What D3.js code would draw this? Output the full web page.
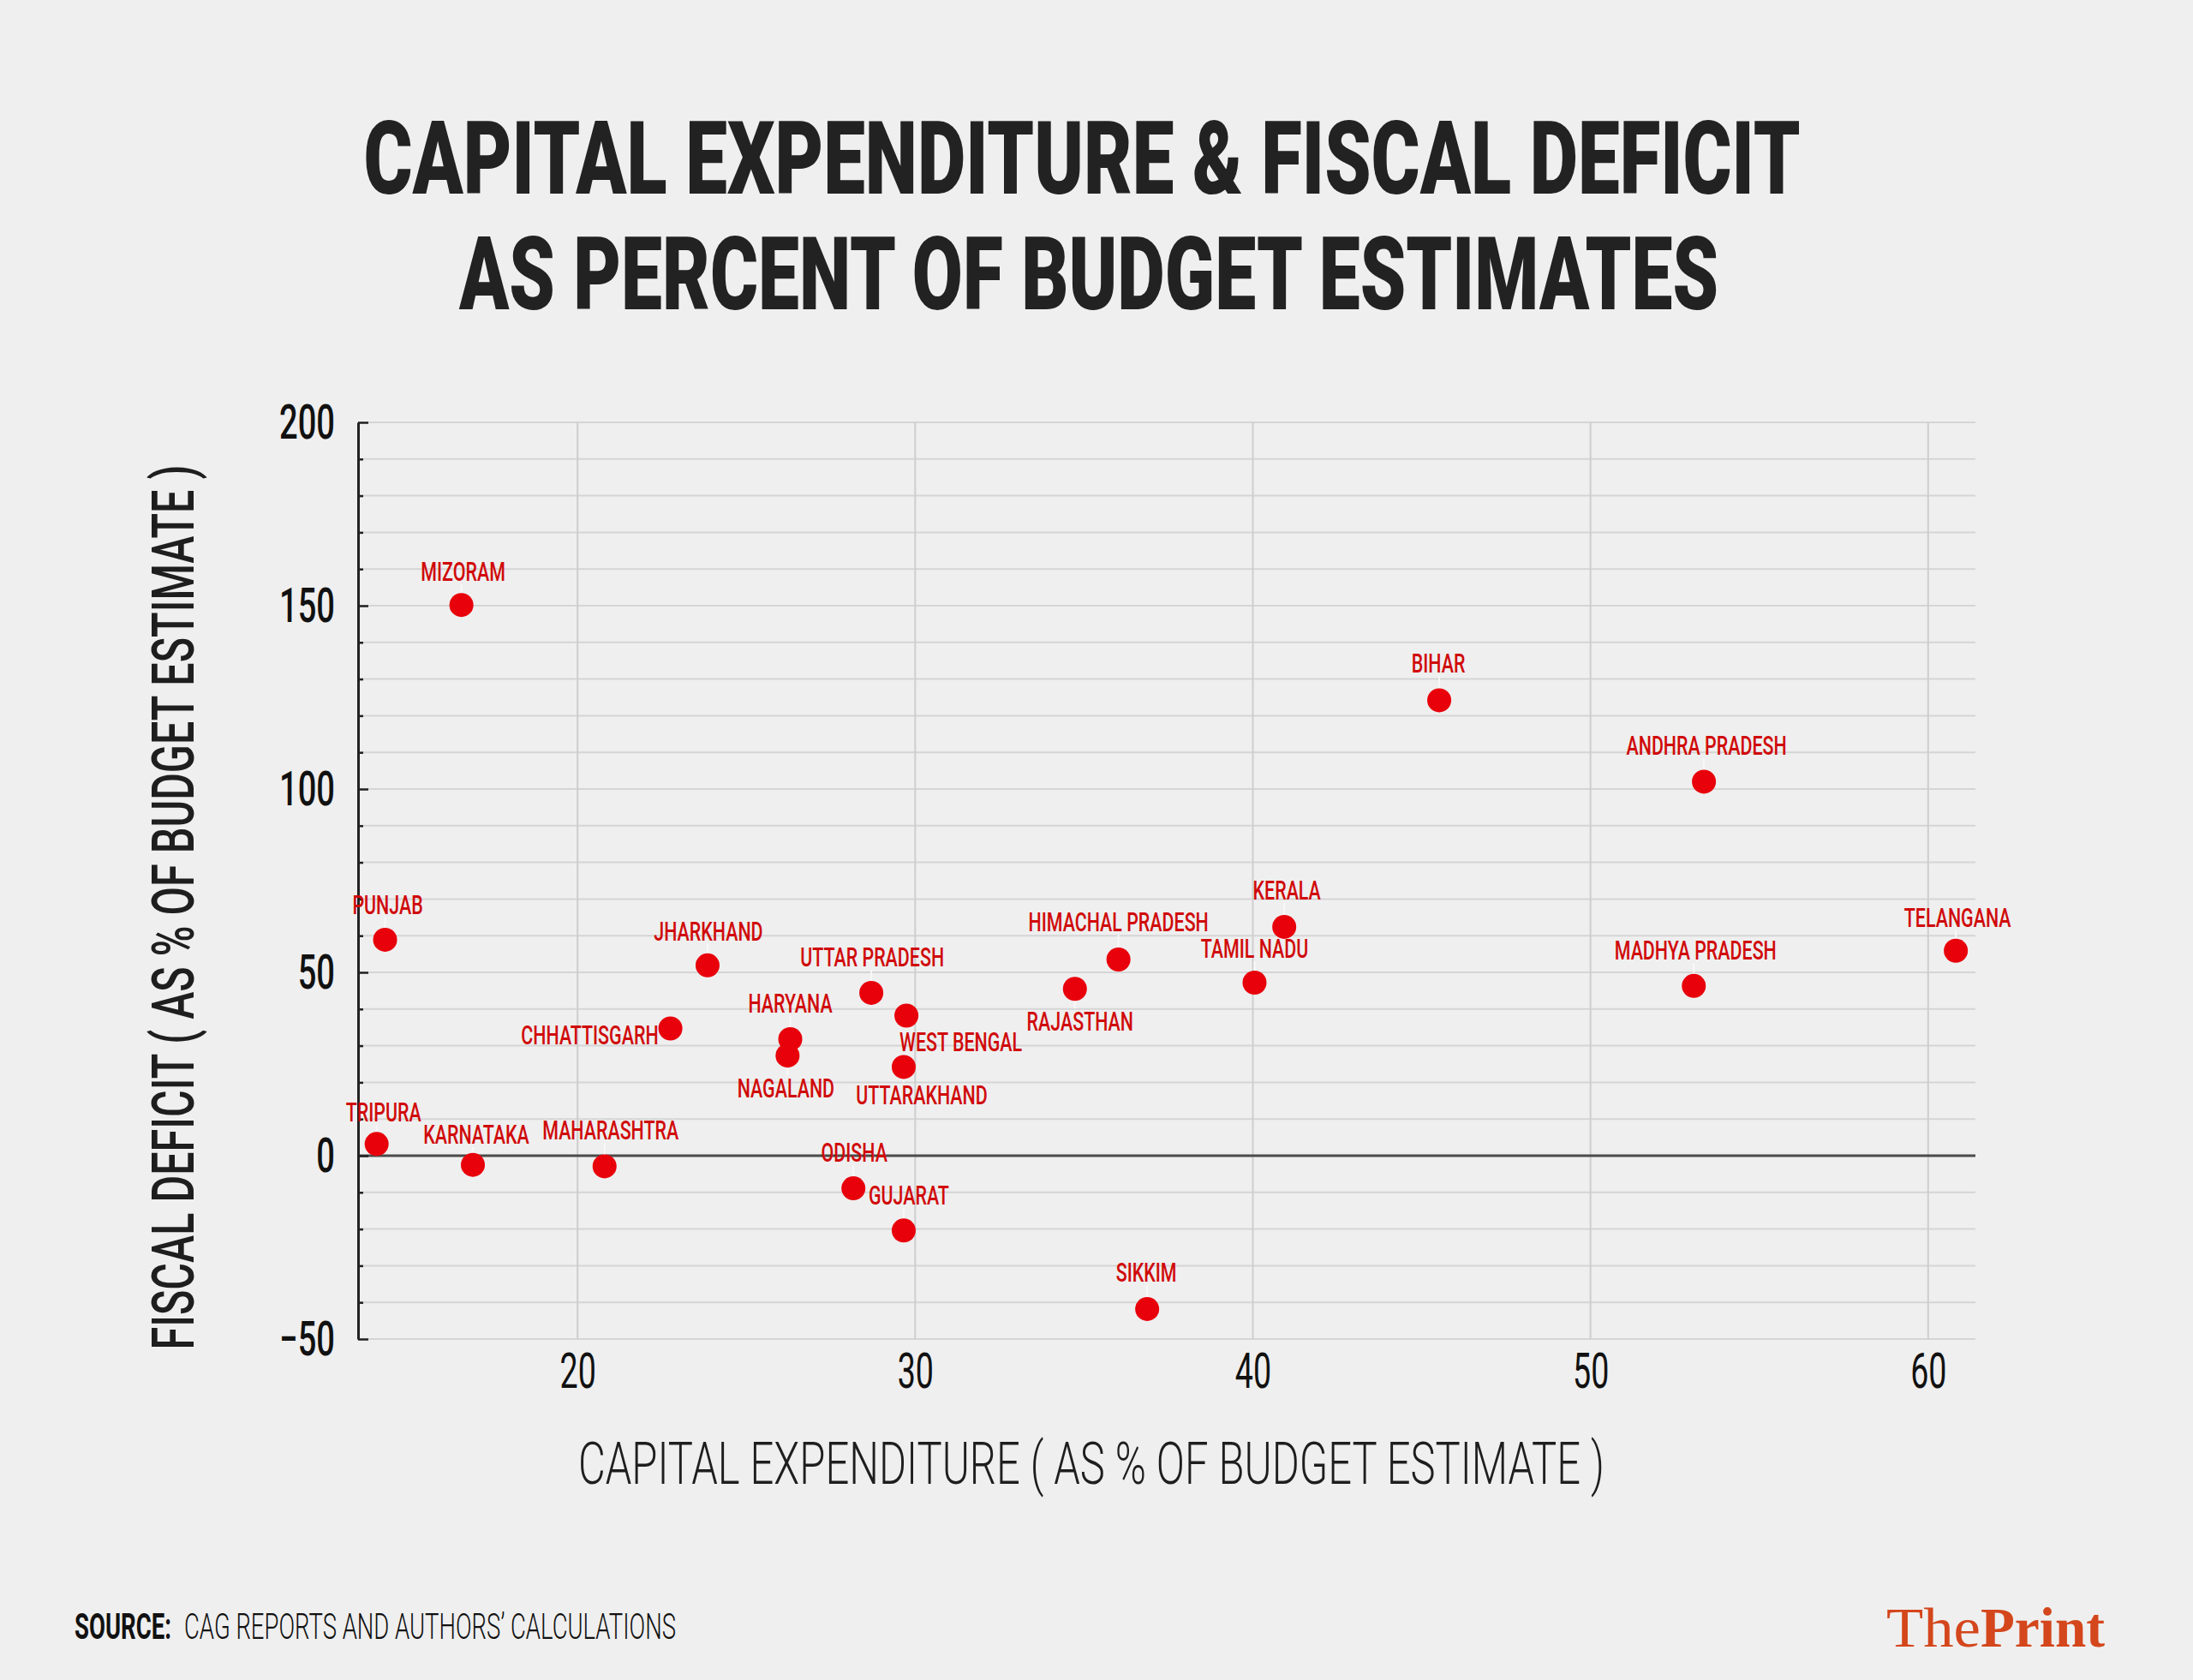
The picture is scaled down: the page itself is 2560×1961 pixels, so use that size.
<!DOCTYPE html>
<html>
<head>
<meta charset="utf-8">
<script src="https://cdn.jsdelivr.net/npm/d3@7"></script>
<style>
  html, body { margin: 0; padding: 0; background: #efefef; }
  svg { display: block; }
</style>
</head>
<body>
<svg id="chart" width="2560" height="1961"></svg>
<script>
// ---------------- DATA ----------------
const states = ["MIZORAM","PUNJAB","TRIPURA","KARNATAKA","MAHARASHTRA","CHHATTISGARH","JHARKHAND",
  "HARYANA","NAGALAND","UTTAR PRADESH","WEST BENGAL","UTTARAKHAND","ODISHA","GUJARAT",
  "RAJASTHAN","HIMACHAL PRADESH","KERALA","TAMIL NADU","SIKKIM","BIHAR","ANDHRA PRADESH",
  "MADHYA PRADESH","TELANGANA"];
const capitalExpenditure = [16.56,14.3,14.05,16.9,20.8,22.75,23.85,26.3,26.22,28.7,29.74,29.66,
  28.17,29.66,34.73,36.02,40.93,40.05,36.87,45.52,53.36,53.06,60.82];
const fiscalDeficit = [150.2,58.9,3.2,-2.5,-2.9,34.7,51.9,31.8,27.3,44.4,38.2,24.2,
  -8.9,-20.4,45.5,53.5,62.4,47.2,-41.8,124.2,102.0,46.3,55.9];
const yMajorTicks = [-50,0,50,100,150,200];
const xTicks = [20,30,40,50,60];

// ---------------- LAYOUT (label placement, px) ----------------
const labelPlace = {
  "MIZORAM":["middle",2,-28], "PUNJAB":["middle",3,-30], "TRIPURA":["middle",8,-26],
  "KARNATAKA":["middle",4,-25], "MAHARASHTRA":["middle",7,-31], "CHHATTISGARH":["end",-14,19],
  "JHARKHAND":["middle",1,-29], "HARYANA":["middle",0,-31], "NAGALAND":["middle",-2,49],
  "UTTAR PRADESH":["middle",1,-31], "WEST BENGAL":["start",-8,41], "UTTARAKHAND":["middle",21,44],
  "ODISHA":["middle",1,-31], "GUJARAT":["middle",6,-30], "RAJASTHAN":["middle",6,49],
  "HIMACHAL PRADESH":["middle",0,-33], "KERALA":["middle",3,-32], "TAMIL NADU":["middle",0,-29],
  "SIKKIM":["middle",-1,-32], "BIHAR":["middle",-1,-32], "ANDHRA PRADESH":["middle",3,-31],
  "MADHYA PRADESH":["middle",2,-31], "TELANGANA":["middle",2,-28]
};

const data = states.map((s,i)=>({name:s, x:capitalExpenditure[i], y:fiscalDeficit[i]}));

const svg = d3.select("#chart");
const FONT = "Roboto, 'Open Sans', 'DejaVu Sans', sans-serif";
svg.append("rect").attr("width",2560).attr("height",1961).attr("fill","#efefef");

const x = d3.scaleLinear().domain([13.5, 61.4]).range([418, 2306]);
const y = d3.scaleLinear().domain([-50, 200]).range([1563, 493]);

// ---------------- TITLE ----------------
svg.append("text").text("CAPITAL EXPENDITURE & FISCAL DEFICIT")
  .attr("x",1263).attr("y",226).attr("text-anchor","middle")
  .attr("font-family",FONT).attr("font-weight",900).attr("font-size",118)
  .attr("fill","#222").attr("textLength",1677).attr("lengthAdjust","spacingAndGlyphs");
svg.append("text").text("AS PERCENT OF BUDGET ESTIMATES")
  .attr("x",1271).attr("y",361).attr("text-anchor","middle")
  .attr("font-family",FONT).attr("font-weight",900).attr("font-size",118)
  .attr("fill","#222").attr("textLength",1470).attr("lengthAdjust","spacingAndGlyphs");

// ---------------- GRID ----------------
const grid = svg.append("g");
grid.selectAll("line.h").data(d3.range(-50, 201, 10).filter(v=>v!==0)).join("line")
  .attr("x1",x.range()[0]).attr("x2",x.range()[1])
  .attr("y1",d=>y(d)).attr("y2",d=>y(d))
  .attr("stroke","#d5d5d5").attr("stroke-width",2);
grid.selectAll("line.v").data(xTicks).join("line")
  .attr("x1",d=>x(d)).attr("x2",d=>x(d))
  .attr("y1",y(200)).attr("y2",y(-50))
  .attr("stroke","#cecece").attr("stroke-width",2);
grid.append("line")
  .attr("x1",x.range()[0]).attr("x2",x.range()[1])
  .attr("y1",y(0)).attr("y2",y(0))
  .attr("stroke","#4a4a4a").attr("stroke-width",3);

// ---------------- Y AXIS ----------------
const kY = 0.68;
const yMinor = svg.append("g").attr("transform",`translate(${x.range()[0]},0)`)
  .call(d3.axisLeft(y).tickValues(d3.range(-50,201,10).filter(v=>v%50!==0)).tickSize(6).tickSizeOuter(0).tickFormat(""));
yMinor.select(".domain").remove();
yMinor.selectAll(".tick line").attr("x2",6).attr("stroke","#222").attr("stroke-width",2.5);

const yAxis = svg.append("g").attr("transform",`translate(${x.range()[0]},0)`)
  .call(d3.axisLeft(y).tickValues(yMajorTicks).tickSize(11).tickSizeOuter(0).tickFormat(d3.format("d")));
yAxis.select(".domain").attr("stroke","#222").attr("stroke-width",3);
yAxis.selectAll(".tick line").attr("x2",12).attr("stroke","#222").attr("stroke-width",2.5);
yAxis.selectAll(".tick text")
  .attr("font-family",FONT).attr("font-size",56).attr("font-weight",500).attr("fill","#111")
  .attr("x",-27/kY).attr("dy","0.33em").attr("transform",`scale(${kY},1)`);

// ---------------- X AXIS (labels only) ----------------
const kX = 0.66;
const xAxis = svg.append("g").attr("transform",`translate(0,${y(-50)})`)
  .call(d3.axisBottom(x).tickValues(xTicks).tickSize(0).tickPadding(17).tickFormat(d3.format("d")));
xAxis.select(".domain").remove();
xAxis.selectAll(".tick text")
  .attr("font-family",FONT).attr("font-size",57).attr("font-weight",400).attr("fill","#111")
  .attr("transform",`scale(${kX},1)`);

// ---------------- AXIS TITLES ----------------
svg.append("text").text("CAPITAL EXPENDITURE ( AS % OF BUDGET ESTIMATE )")
  .attr("x",1274).attr("y",1732).attr("text-anchor","middle")
  .attr("font-family",FONT).attr("font-weight",300).attr("font-size",69).attr("fill","#1e1e1e")
  .attr("textLength",1198).attr("lengthAdjust","spacingAndGlyphs");
svg.append("text").text("FISCAL DEFICIT ( AS % OF BUDGET ESTIMATE )")
  .attr("transform","translate(226,1059) rotate(-90)").attr("text-anchor","middle")
  .attr("font-family",FONT).attr("font-weight",500).attr("font-size",69).attr("fill","#1e1e1e")
  .attr("textLength",1033).attr("lengthAdjust","spacingAndGlyphs");

// ---------------- POINTS & LABELS ----------------
const kL = 0.67;
const pts = svg.append("g");
// leader lines
pts.selectAll("line.leader").data(data).join("line")
  .attr("x1",d=>x(d.x)).attr("x2",d=>x(d.x))
  .attr("y1",d=>{const p=labelPlace[d.name]; return p[2]<0 ? y(d.y)+p[2]+4 : y(d.y)+p[2]-26;})
  .attr("y2",d=>{const p=labelPlace[d.name]; return p[2]<0 ? y(d.y)-13 : y(d.y)+13;})
  .attr("stroke","#f8f8f8").attr("stroke-width",2)
  .attr("display",d=>labelPlace[d.name][0]==="end"?"none":null);

pts.selectAll("circle").data(data).join("circle")
  .attr("cx",d=>x(d.x)).attr("cy",d=>y(d.y)).attr("r",14)
  .attr("fill","#e8000b");

pts.selectAll("g.lbl").data(data).join("g")
  .attr("transform",d=>{const p=labelPlace[d.name]; return `translate(${x(d.x)+p[1]},${y(d.y)+p[2]})`;})
  .append("text").text(d=>d.name)
  .attr("text-anchor",d=>labelPlace[d.name][0])
  .attr("transform",`scale(${kL},1)`)
  .attr("font-family",FONT).attr("font-weight",500).attr("font-size",32)
  .attr("fill","#d00a0a");

// ---------------- FOOTER ----------------
svg.append("text").text("SOURCE:")
  .attr("x",87).attr("y",1913)
  .attr("font-family",FONT).attr("font-weight",700).attr("font-size",42).attr("fill","#111")
  .attr("textLength",113).attr("lengthAdjust","spacingAndGlyphs");
svg.append("text").text("CAG REPORTS AND AUTHORS\u2019 CALCULATIONS")
  .attr("x",215).attr("y",1913)
  .attr("font-family",FONT).attr("font-weight",300).attr("font-size",42).attr("fill","#111")
  .attr("textLength",574).attr("lengthAdjust","spacingAndGlyphs");

const SERIF = "'Liberation Serif', 'DejaVu Serif', serif";
svg.append("text").text("The")
  .attr("x",2202).attr("y",1922)
  .attr("font-family",SERIF).attr("font-weight",400).attr("font-size",66).attr("fill","#d4461c")
  .attr("textLength",110).attr("lengthAdjust","spacingAndGlyphs");
svg.append("text").text("Print")
  .attr("x",2312).attr("y",1922)
  .attr("font-family",SERIF).attr("font-weight",700).attr("font-size",66).attr("fill","#d4461c")
  .attr("textLength",145).attr("lengthAdjust","spacingAndGlyphs");
</script>
</body>
</html>
